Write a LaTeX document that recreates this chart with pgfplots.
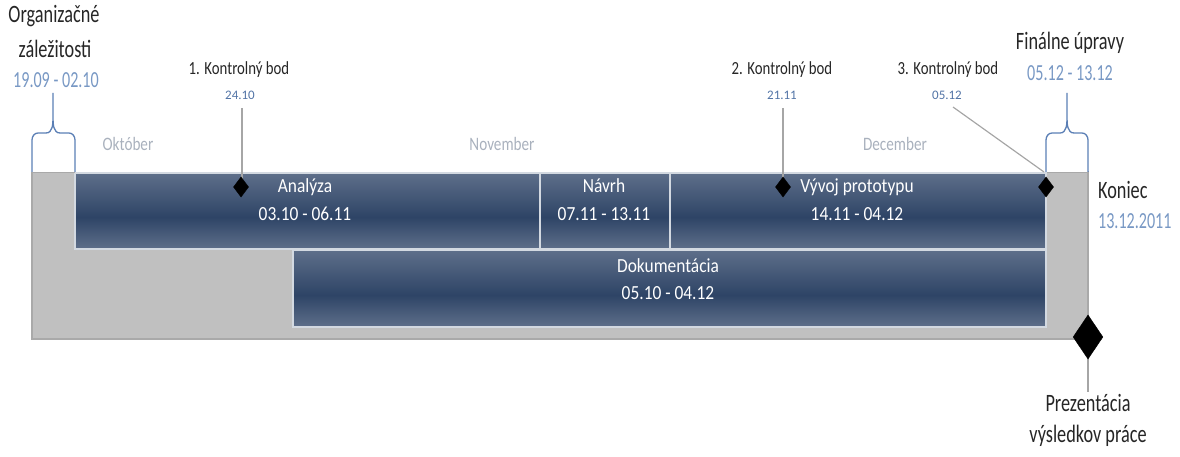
\documentclass[border=0pt]{standalone}
\usepackage{pgfplots}
\pgfplotsset{compat=1.18}
\usepackage{fontspec}
\setmainfont{Carlito}

\definecolor{barTop}{HTML}{5E6F8A}
\definecolor{barMid}{HTML}{2E4466}
\definecolor{barEdge}{HTML}{D3D9E1}
\definecolor{bgGray}{HTML}{C0C0C0}
\definecolor{bgEdge}{HTML}{A9A9A9}
\definecolor{txt}{HTML}{262626}
\definecolor{lblue}{HTML}{7898C4}
\definecolor{dblue}{HTML}{5274A6}
\definecolor{month}{HTML}{A9B1BD}
\definecolor{brace}{HTML}{5B7FB5}
\definecolor{guide}{HTML}{A6A6A6}

\tikzset{
  big/.style={font=\fontsize{25}{25}\selectfont, text=txt, xscale=.73, anchor=mid, inner sep=0pt},
  bdate/.style={font=\fontsize{23}{23}\selectfont, text=lblue, xscale=.70, anchor=mid, inner sep=0pt},
  kb/.style={font=\fontsize{18.5}{18.5}\selectfont, text=txt, xscale=.8, anchor=mid, inner sep=0pt},
  kdate/.style={font=\fontsize{13}{13}\selectfont, text=dblue, anchor=mid, inner sep=0pt},
  mon/.style={font=\fontsize{19}{19}\selectfont, text=month, xscale=.8, anchor=mid, inner sep=0pt},
  bar/.style={font=\fontsize{20}{20}\selectfont, text=white, xscale=.87, anchor=mid, inner sep=0pt},
  edge/.style={draw=barEdge, line width=1.4pt},
}

% task blocks: two rectangles each (upper and lower half), meta 0 = edge colour, 1 = middle
\pgfplotstableread{
x y m
75 173 0
540 173 0
540 217 1
75 217 1
75 217 1
540 217 1
540 249 0
75 249 0
540 173 0
670 173 0
670 217 1
540 217 1
540 217 1
670 217 1
670 249 0
540 249 0
670 173 0
1046 173 0
1046 217 1
670 217 1
670 217 1
1046 217 1
1046 249 0
670 249 0
293 250 0
1046 250 0
1046 295 1
293 295 1
293 295 1
1046 295 1
1046 327 0
293 327 0
}\tasks

\begin{document}
\begin{tikzpicture}
\begin{axis}[
  scale only axis, width=1180pt, height=457pt,
  xmin=0, xmax=1180, ymin=0, ymax=457, y dir=reverse,
  hide axis, clip=false,
  colormap={bar}{color(0)=(barTop) color(1)=(barMid)},
  point meta min=0, point meta max=1]
\path (axis cs:0,0) rectangle (axis cs:1180,457);

% gray frame 19.09 - 13.12
\addplot[draw=bgEdge, fill=bgGray, line width=1.5pt] coordinates {(32,172) (1088,172) (1088,339) (32,339) (32,172)};
\addplot[draw=white, line width=1pt] coordinates {(32,172) (1088,172)};

% tasks
\addplot[patch, patch type=rectangle, shader=interp, point meta=\thisrow{m}] table[x=x, y=y] {\tasks};
\addplot[edge] coordinates {(75,173) (540,173) (540,249) (75,249) (75,173)};
\addplot[edge] coordinates {(540,173) (670,173) (670,249) (540,249) (540,173)};
\addplot[edge] coordinates {(670,173) (1046,173) (1046,249) (670,249) (670,173)};
\addplot[edge] coordinates {(293,250) (1046,250) (1046,327) (293,327) (293,250)};

\node[bar] at (axis cs:305,190) {Analýza};
\node[bar] at (axis cs:305,218) {03.10 - 06.11};
\node[bar] at (axis cs:604,190) {Návrh};
\node[bar] at (axis cs:604,218) {07.11 - 13.11};
\node[bar] at (axis cs:857,190) {Vývoj prototypu};
\node[bar] at (axis cs:857,218) {14.11 - 04.12};
\node[bar] at (axis cs:668,270) {Dokumentácia};
\node[bar] at (axis cs:668,297) {05.10 - 04.12};

% months
\node[mon] at (axis cs:128,148) {Október};
\node[mon] at (axis cs:502,148) {November};
\node[mon] at (axis cs:895,148) {December};

% braces
\draw[brace, line width=1.3pt] (axis cs:32,172) -- (axis cs:32,140) to[out=90,in=180] (axis cs:38,133) -- (axis cs:46,133) to[out=0,in=270] (axis cs:53,117) -- (axis cs:53,93) -- (axis cs:53,117) to[out=270,in=180] (axis cs:60,133) -- (axis cs:69,133) to[out=0,in=90] (axis cs:75,140) -- (axis cs:75,172);
\draw[brace, line width=1.3pt] (axis cs:1046,172) -- (axis cs:1046,140) to[out=90,in=180] (axis cs:1052,133) -- (axis cs:1060,133) to[out=0,in=270] (axis cs:1067,117) -- (axis cs:1067,93) -- (axis cs:1067,117) to[out=270,in=180] (axis cs:1074,133) -- (axis cs:1082,133) to[out=0,in=90] (axis cs:1088,140) -- (axis cs:1088,172);

\node[big] at (axis cs:54,20) {Organizačné};
\node[big] at (axis cs:55,55) {záležitosti};
\node[bdate] at (axis cs:56,85) {19.09 - 02.10};
\node[big] at (axis cs:1070,47) {Finálne úpravy};
\node[bdate] at (axis cs:1070,78) {05.12 - 13.12};

% checkpoints
\addplot[guide, line width=1.2pt] coordinates {(242,108) (242,182)};
\addplot[guide, line width=1.2pt] coordinates {(783,108) (783,182)};
\addplot[guide, line width=1.2pt] coordinates {(953,107) (1044,172)};
\addplot[only marks, mark=diamond*, mark size=10pt, black] coordinates {(241,187) (783,187) (1046,187)};

\node[kb] at (axis cs:239,72) {1. Kontrolný bod};
\node[kdate] at (axis cs:240,97) {24.10};
\node[kb] at (axis cs:782,72) {2. Kontrolný bod};
\node[kdate] at (axis cs:782,97) {21.11};
\node[kb] at (axis cs:948,72) {3. Kontrolný bod};
\node[kdate] at (axis cs:947,97) {05.12};

% end
\node[big, anchor=west] at (axis cs:1098,190) {Koniec};
\node[bdate, anchor=west] at (axis cs:1098,221) {13.12.2011};

\addplot[guide, line width=1.2pt] coordinates {(1088,350) (1088,392)};
\addplot[only marks, mark=diamond*, mark size=22pt, black, mark options={xscale=.9}] coordinates {(1088,337)};
\node[big] at (axis cs:1088,409) {Prezentácia};
\node[big] at (axis cs:1088,440) {výsledkov práce};
\end{axis}
\end{tikzpicture}
\end{document}
